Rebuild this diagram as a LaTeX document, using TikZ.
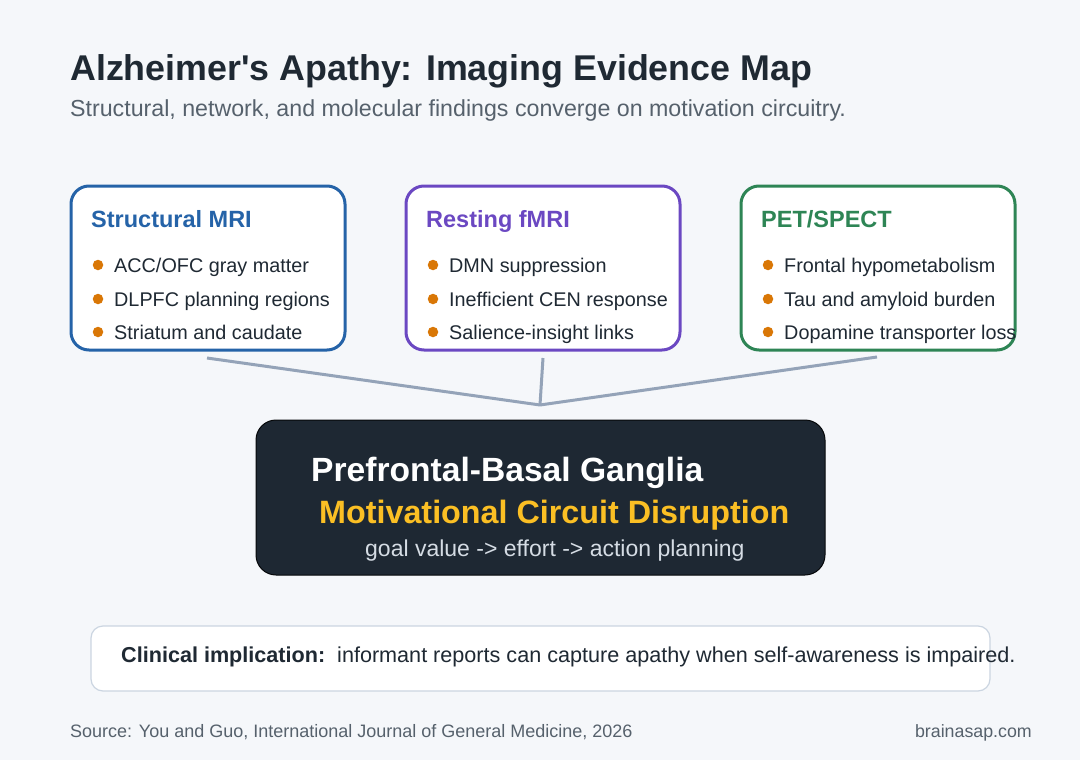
\documentclass[tikz,border=0pt]{standalone}
\usepackage{fontspec}
\setmainfont{Liberation Sans}[Ligatures=TeXOff]
\definecolor{bg}{HTML}{F5F7FA}
\definecolor{ink}{HTML}{1F2933}
\definecolor{sub}{HTML}{56616C}
\definecolor{cblue}{HTML}{2563A8}
\definecolor{cpurple}{HTML}{6B48C2}
\definecolor{cgreen}{HTML}{2E8555}
\definecolor{dot}{HTML}{D97706}
\definecolor{conn}{HTML}{94A3B8}
\definecolor{dark}{HTML}{1E2833}
\definecolor{gold}{HTML}{FBBF24}
\definecolor{pale}{HTML}{D5DCE4}
\definecolor{lineg}{HTML}{CBD5E1}
\tikzset{
  card/.style={draw=#1, line width=3pt, fill=white, rounded corners=18pt, minimum width=274pt, minimum height=164pt, inner sep=0pt},
  cardtitle/.style={anchor=base west, inner sep=0pt, text=#1, font=\fontsize{23.5}{28}\selectfont\bfseries},
  item/.style={anchor=base west, inner sep=0pt, text=ink, font=\fontsize{19.8}{24}\selectfont},
  bul/.style={circle, fill=dot, inner sep=0pt, minimum size=10.5pt},
  conline/.style={draw=conn, line width=3pt},
}
\begin{document}
\begin{tikzpicture}[x=1pt,y=-1pt]
\fill[bg] (0,0) rectangle (1080,760);
\useasboundingbox (0,0) rectangle (1080,760);
% title
\node[anchor=base west, inner sep=0pt, text=ink, font=\fontsize{35.8}{42}\selectfont\bfseries] (title) at (70,81) {Alzheimer's Apathy: Imaging Evidence Map};
\node[anchor=base west, inner sep=0pt, text=sub, font=\fontsize{23.2}{28}\selectfont] (subtitle) at (70,117) {Structural, network, and molecular findings converge on motivation circuitry.};
% cards
\node[card=cblue] (b1) at (208,268) {};
\node[card=cpurple] (b2) at (543,268) {};
\node[card=cgreen] (b3) at (878,268) {};
\node[cardtitle=cblue] (t1) at (91,227) {Structural MRI};
\node[cardtitle=cpurple] (t2) at (426,227) {Resting fMRI};
\node[cardtitle=cgreen] (t3) at (761,227) {PET/SPECT};
% bullets card 1
\node[bul] (d11) at (98,265) {};
\node[bul] (d12) at (98,299) {};
\node[bul] (d13) at (98,332) {};
\node[item] (i11) at (114,272) {ACC/OFC gray matter};
\node[item] (i12) at (114,306) {DLPFC planning regions};
\node[item] (i13) at (114,339) {Striatum and caudate};
% card 2
\node[bul] (d21) at (433,265) {};
\node[bul] (d22) at (433,299) {};
\node[bul] (d23) at (433,332) {};
\node[item] (i21) at (449,272) {DMN suppression};
\node[item] (i22) at (449,306) {Inefficient CEN response};
\node[item] (i23) at (449,339) {Salience-insight links};
% card 3
\node[bul] (d31) at (768,265) {};
\node[bul] (d32) at (768,299) {};
\node[bul] (d33) at (768,332) {};
\node[item] (i31) at (784,272) {Frontal hypometabolism};
\node[item] (i32) at (784,306) {Tau and amyloid burden};
\node[item] (i33) at (784,339) {Dopamine transporter loss};
% connectors
\coordinate (c1) at (207,358);
\coordinate (c2) at (543,358);
\coordinate (c3) at (877,357);
\coordinate (hub) at (540,405);
\draw[conline] (c1) -- (hub);
\draw[conline] (c2) -- (hub);
\draw[conline] (c3) -- (hub);
% central
\node[draw=black!80!dark, line width=1pt, fill=dark, rounded corners=20pt, minimum width=569pt, minimum height=155pt, inner sep=0pt] (core) at (540.5,497.5) {};
\node[anchor=base west, inner sep=0pt, text=white, font=\fontsize{33.6}{40}\selectfont\bfseries] (core1) at (311,481) {Prefrontal-Basal Ganglia};
\node[anchor=base west, inner sep=0pt, text=gold, font=\fontsize{32.3}{38}\selectfont\bfseries] (core2) at (319,523.5) {Motivational Circuit Disruption};
\node[anchor=base west, inner sep=0pt, text=pale, font=\fontsize{23}{28}\selectfont] (core3) at (365,556) {goal value -> effort -> action planning};
% clinical
\node[draw=lineg, line width=1.2pt, fill=white, rounded corners=12pt, minimum width=899pt, minimum height=65pt, inner sep=0pt] (clin) at (540.5,658.5) {};
\node[anchor=base west, inner sep=0pt, text=ink, font=\fontsize{21.6}{26}\selectfont] (clintext) at (121,662.5) {\textbf{Clinical implication:}\ \ informant reports can capture apathy when self-awareness is impaired.};
% footer
\node[anchor=base west, inner sep=0pt, text=sub, font=\fontsize{18}{22}\selectfont] (src) at (70,737) {Source: You and Guo, International Journal of General Medicine, 2026};
\node[anchor=base east, inner sep=0pt, text=sub, font=\fontsize{17.8}{22}\selectfont] (brand) at (1032,737) {brainasap.com};
\end{tikzpicture}
\end{document}
